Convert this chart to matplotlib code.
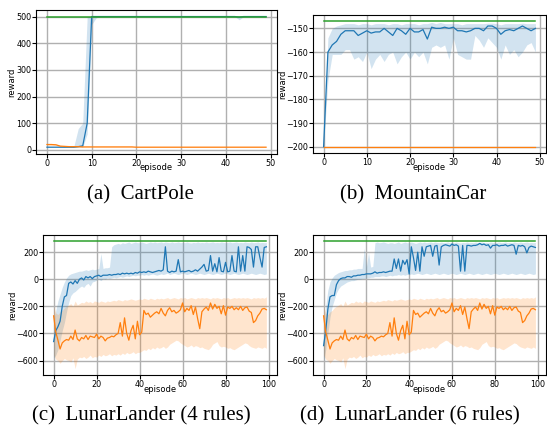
import matplotlib
matplotlib.use('Agg')
import matplotlib.pyplot as plt
from matplotlib.ticker import MultipleLocator

# ---- (a) CartPole, 50 episodes ----
cp_blue = [10, 10, 10, 10, 10, 10, 10, 12, 15, 100,
           500, 500, 500, 500, 500, 500, 500, 500, 500, 500,
           500, 500, 500, 500, 500, 500, 500, 500, 500, 500,
           500, 500, 500, 500, 500, 500, 500, 500, 500, 500,
           500, 500, 500, 498, 500, 500, 500, 500, 500, 500]
cp_blue_lo = [9, 9, 9, 9, 9, 9, 9, 10, 10, 60,
              470, 495, 500, 500, 500, 500, 500, 500, 500, 500,
              500, 500, 500, 500, 500, 500, 500, 500, 500, 500,
              500, 500, 500, 500, 500, 500, 500, 500, 500, 500,
              500, 500, 500, 488, 500, 500, 500, 500, 500, 500]
cp_blue_hi = [11, 11, 11, 11, 11, 11, 12, 80, 100, 500,
              500, 500, 500, 500, 500, 500, 500, 500, 500, 500,
              500, 500, 500, 500, 500, 500, 500, 500, 500, 500,
              500, 500, 500, 500, 500, 500, 500, 500, 500, 500,
              500, 500, 500, 500, 500, 500, 500, 500, 500, 500]
cp_orange = [20, 20, 19, 14, 13, 12, 12, 12, 11, 11,
             11, 11, 11, 11, 11, 11, 11, 11, 11, 11,
             10, 10, 10, 10, 10, 10, 10, 10, 10, 10,
             10, 10, 10, 10, 10, 10, 10, 10, 10, 10,
             10, 10, 10, 10, 10, 10, 10, 10, 10, 10]
cp_orange_lo = [17, 17, 16, 12, 11, 10, 10, 10, 10, 10,
                10, 10, 10, 10, 10, 10, 10, 10, 10, 10,
                9, 9, 9, 9, 9, 9, 9, 9, 9, 9,
                9, 9, 9, 9, 9, 9, 9, 9, 9, 9,
                9, 9, 9, 9, 9, 9, 9, 9, 9, 9]
cp_orange_hi = [24, 24, 22, 16, 15, 14, 14, 14, 13, 13,
                13, 13, 13, 13, 13, 13, 13, 13, 13, 13,
                12, 12, 12, 12, 12, 12, 12, 12, 12, 12,
                12, 12, 12, 12, 12, 12, 12, 12, 12, 12,
                12, 12, 12, 12, 12, 12, 12, 12, 12, 12]
cp_best = 500

# ---- (b) MountainCar, 50 episodes ----
mc_blue = [-200, -160, -157, -155.5, -152.5, -151, -151, -151, -153, -152,
           -151, -152, -151.5, -151.5, -150, -151.5, -153, -150, -151, -152.5,
           -150, -151.5, -151.5, -150.5, -154.5, -149.5, -150, -150, -149.5, -150,
           -149.5, -151, -151, -151.5, -151, -150, -150, -151, -149, -149,
           -150, -152.5, -151, -150.5, -151, -150, -149, -150, -151, -150]
mc_blue_lo = [-200, -172, -161, -161, -161, -159, -159, -163, -162, -164,
              -160, -167, -163, -161, -164, -161, -160, -165, -162, -160,
              -163, -160, -162, -160, -165, -158, -157, -158, -157, -163,
              -154, -161, -162, -163, -163, -153, -155, -158, -154, -156,
              -158, -163, -157, -161, -159, -162, -160, -157, -156, -160]
mc_blue_hi = [-200, -154, -150, -149, -148.5, -148, -148, -148, -148.5, -148,
              -148, -148.5, -148, -148, -148, -148.5, -148, -148, -148.5, -148,
              -148, -148, -148.5, -148, -148, -147.5, -148, -147.5, -148, -148,
              -148, -148, -148.5, -148, -148, -148, -148, -148, -147.8, -147.8,
              -148, -148.5, -148, -148, -148, -148, -147.8, -148, -148, -148]
mc_orange = [-200] * 50
mc_best = -147

# ---- (c)/(d) LunarLander, 100 episodes ----
ll_orange = [-270, -390, -450, -515, -470, -455, -445, -450, -420, -445,
             -375, -440, -455, -430, -440, -415, -445, -420, -425, -430,
             -405, -440, -420, -430, -455, -435, -430, -420, -425, -410,
             -400, -320, -420, -285, -400, -450, -380, -340, -440, -310,
             -410, -390, -230, -260, -250, -280, -265, -250, -240, -255,
             -215, -250, -270, -230, -210, -240, -230, -250, -240, -225,
             -175, -240, -215, -230, -195, -260, -205, -290, -365, -240,
             -220, -205, -230, -175, -220, -185, -215, -200, -255, -195,
             -265, -205, -215, -200, -225, -210, -225, -200, -230, -210,
             -205, -235, -245, -320, -305, -270, -250, -220, -215, -225]
ll_orange_hi = [-200, -250, -260, -240, -230, -210, -200, -190, -180, -200,
                -160, -190, -180, -170, -175, -160, -170, -165, -175, -160,
                -165, -170, -160, -165, -170, -160, -165, -160, -155, -160,
                -150, -155, -160, -150, -155, -150, -145, -150, -155, -150,
                -145, -150, -140, -145, -150, -140, -145, -150, -140, -145,
                -140, -145, -140, -135, -145, -140, -135, -140, -145, -135,
                -140, -135, -145, -140, -135, -140, -145, -135, -140, -135,
                -140, -135, -140, -145, -135, -140, -135, -140, -145, -135,
                -140, -135, -145, -140, -135, -140, -135, -140, -135, -140,
                -135, -140, -145, -135, -140, -135, -140, -135, -140, -130]
ll_orange_lo = [-560, -590, -600, -620, -600, -585, -595, -600, -610, -580,
                -660, -590, -575, -580, -570, -585, -575, -560, -580, -570,
                -575, -560, -570, -555, -565, -560, -550, -565, -555, -560,
                -550, -560, -545, -555, -540, -550, -545, -535, -550, -540,
                -540, -530, -520, -525, -510, -520, -505, -515, -500, -510,
                -505, -495, -510, -500, -480, -470, -460, -450, -455, -470,
                -480, -490, -500, -495, -485, -500, -490, -495, -505, -500,
                -510, -515, -520, -505, -480, -470, -460, -490, -500, -495,
                -500, -510, -505, -515, -520, -510, -500, -490, -480, -470,
                -475, -490, -500, -505, -510, -500, -505, -510, -500, -510]
ll_best = 280

ll4_blue = [-460, -380, -350, -310, -200, -130, -120, -30, -20, -35,
            -10, -30, 0, 10, -5, 20, 10, 20, 5, 20,
            25, 30, 20, 30, 30, 30, 35, 30, 35, 35,
            40, 35, 45, 40, 45, 40, 45, 40, 50, 45,
            55, 50, 55, 50, 60, 55, 50, 55, 60, 65,
            60, 70, 240, 60, 50, 60, 55, 60, 145, 55,
            60, 55, 60, 65, 55, 60, 70, 60, 75, 90,
            110, 60, 65, 175, 60, 115, 55, 160, 60, 55,
            125, 55, 60, 175, 60, 55, 240, 60, 175, 60,
            240, 235, 220, 90, 240, 240, 160, 90, 235, 240]
ll4_blue_hi = [-300, -230, -160, -110, -60, -20, 10, 30, 40, 45,
               50, 55, 60, 60, 65, 70, 65, 70, 75, 70,
               75, 80, 190, 80, 85, 85, 90, 240, 255, 260,
               265, 260, 270, 265, 270, 275, 265, 270, 275, 270,
               270, 275, 270, 265, 270, 275, 270, 275, 270, 272,
               275, 270, 275, 272, 270, 275, 270, 272, 275, 270,
               272, 270, 275, 270, 268, 272, 270, 275, 270, 272,
               270, 275, 270, 272, 275, 270, 272, 270, 275, 272,
               270, 272, 275, 270, 272, 275, 270, 272, 270, 275,
               272, 270, 275, 270, 272, 275, 270, 272, 270, 272]
ll4_blue_lo = [-580, -560, -520, -450, -380, -320, -240, -170, -120, -100,
               -90, -75, -60, -50, -60, -40, -30, -50, -20, -15,
               -5, 0, -10, 5, 0, 10, 5, 10, 15, 10,
               15, 20, 15, 20, 25, 20, 25, 30, 25, 30,
               30, 35, 30, 35, 30, 35, 40, 35, 30, 35,
               40, 35, 40, 45, 35, 40, 45, 40, 35, 40,
               45, 40, 35, 40, 45, 40, 35, 40, 45, 40,
               35, 40, 45, 40, 35, 40, 45, 40, 35, 40,
               45, 40, 35, 40, 45, 40, 35, 40, 45, 40,
               35, 40, 45, 40, 35, 40, 45, 40, 35, 40]

ll6_blue = [-490, -380, -220, -130, -120, -120, -40, -10, 5, 10,
            10, 20, 20, 15, 25, 25, 30, 30, 35, 35,
            40, 40, 40, 45, 55, 45, 50, 50, 55, 50,
            55, 60, 60, 150, 80, 150, 60, 140, 110, 145,
            40, 240, 160, 65, 200, 60, 240, 170, 240, 245,
            250, 170, 245, 250, 105, 240, 250, 255, 250, 245,
            260, 250, 255, 245, 60, 250, 60, 250, 250, 245,
            250, 250, 255, 265, 255, 260, 250, 255, 230, 250,
            250, 255, 245, 250, 250, 255, 245, 250, 255, 250,
            185, 250, 245, 250, 240, 195, 235, 245, 240, 235]
ll6_blue_hi = [-380, -200, -80, -20, 10, 30, 40, 50, 55, 60,
               65, 65, 70, 70, 75, 75, 80, 80, 80, 230,
               90, 200, 90, 95, 270, 275, 270, 272, 275, 270,
               265, 270, 270, 265, 270, 275, 265, 270, 275, 270,
               270, 275, 270, 265, 270, 275, 270, 275, 270, 272,
               275, 270, 275, 272, 270, 275, 270, 272, 275, 270,
               272, 270, 275, 270, 268, 272, 270, 275, 270, 272,
               270, 275, 270, 272, 275, 270, 272, 270, 275, 272,
               270, 272, 275, 270, 272, 275, 270, 272, 270, 275,
               272, 270, 275, 270, 272, 275, 270, 272, 270, 272]
ll6_blue_lo = [-600, -520, -400, -280, -200, -150, -100, -70, -50, -40,
               -30, -20, -15, -10, -10, -5, 0, 0, 5, 5,
               10, 10, 15, 15, 20, 20, 20, 25, 25, 20,
               25, 30, 25, 30, 30, 35, 30, 35, 30, 35,
               35, 40, 35, 40, 45, 40, 35, 40, 45, 40,
               35, 40, 45, 40, 35, 40, 45, 40, 35, 40,
               45, 40, 35, 40, 45, 40, 35, 40, 45, 40,
               35, 40, 45, 40, 35, 40, 45, 40, 35, 40,
               45, 40, 35, 40, 45, 40, 35, 40, 45, 40,
               35, 40, 45, 40, 35, 40, 45, 40, 35, 40]

W, H = 547, 426
fig = plt.figure(figsize=(W / 100, H / 100), dpi=100)


def panel(px, blue, blue_lo, blue_hi, orange, orange_lo, orange_hi,
          best, ystep, xstep, caption, cap_xy, ylab_x, xlab_y):
    left, top, right, bottom = px
    ax = fig.add_axes([left / W, 1 - bottom / H,
                       (right - left) / W, (bottom - top) / H])
    x = list(range(len(blue)))
    ax.fill_between(x, blue_lo, blue_hi, color='tab:blue', alpha=0.2, lw=0)
    if orange_lo is not None:
        ax.fill_between(x, orange_lo, orange_hi, color='tab:orange',
                        alpha=0.2, lw=0)
    ax.plot(x, blue, color='tab:blue', lw=0.9)
    ax.plot(x, orange, color='tab:orange', lw=0.9)
    ax.plot(x, [best] * len(x), color='tab:green', lw=1.1)
    ax.yaxis.set_major_locator(MultipleLocator(ystep))
    ax.xaxis.set_major_locator(MultipleLocator(xstep))
    ax.grid(True, color='#b0b0b0', lw=1.0)
    ax.set_axisbelow(True)
    for s in ax.spines.values():
        s.set_color('black')
        s.set_linewidth(0.8)
    ax.tick_params(direction='out', length=3, width=0.8, labelsize=5.8,
                   pad=0.5, colors='black')
    ax.set_xlabel('episode', fontsize=6)
    ax.set_ylabel('reward', fontsize=6)
    # label spots (pixels from the axes edge)
    ax.yaxis.set_label_coords((ylab_x - left) / (right - left), 0.5)
    ax.xaxis.set_label_coords(0.5, -(xlab_y - bottom) / (bottom - top))
    ax.yaxis.label.set_va('center')
    ax.xaxis.label.set_va('center')
    fig.text(cap_xy[0] / W, 1 - cap_xy[1] / H, caption, ha='center',
             va='center', fontsize=15, family='Liberation Serif')
    return ax


panel((36, 10, 277, 154), cp_blue, cp_blue_lo, cp_blue_hi,
      cp_orange, cp_orange_lo, cp_orange_hi, cp_best, 100, 10,
      '(a)  CartPole', (140, 195), 12, 168)
panel((313, 15, 546, 153), mc_blue, mc_blue_lo, mc_blue_hi,
      mc_orange, None, None, mc_best, 10, 10,
      '(b)  MountainCar', (413, 195), 283, 168)
panel((43, 235, 277, 375), ll4_blue, ll4_blue_lo, ll4_blue_hi,
      ll_orange, ll_orange_lo, ll_orange_hi, ll_best, 200, 20,
      '(c)  LunarLander (4 rules)', (141, 416), 13, 390)
panel((313, 235, 546, 375), ll6_blue, ll6_blue_lo, ll6_blue_hi,
      ll_orange, ll_orange_lo, ll_orange_hi, ll_best, 200, 20,
      '(d)  LunarLander (6 rules)', (410, 416), 283, 390)

fig.savefig('out.png', dpi=100)
